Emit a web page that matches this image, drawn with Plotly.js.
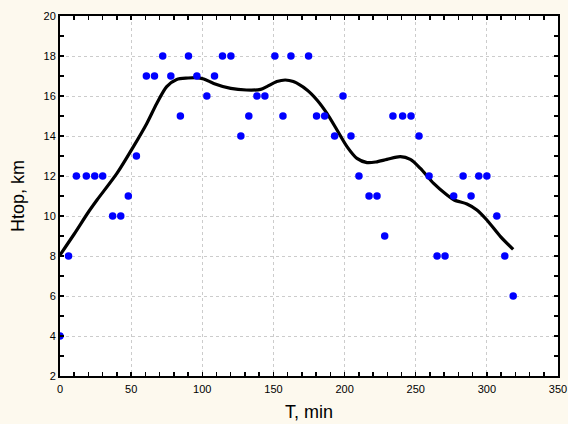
<!DOCTYPE html>
<html>
<head>
<meta charset="utf-8">
<script src="https://cdn.plot.ly/plotly-3.0.1.min.js"></script>
<style>html,body{margin:0;padding:0;background:#fdf9ee;}#chart{width:568px;height:424px;}</style>
</head>
<body>
<div id="chart"></div>
<script>
// Observed points: T (min) vs Htop (km)
const timeMin = [0, 6, 11.5, 18.5, 24.4, 30, 37, 42.7, 48, 53.7, 60.7, 66.4, 72.2, 77.9, 84.6, 90.3, 96.2, 103.2, 108.6, 114.2, 120.1, 127.1, 132.7, 138.4, 144, 151, 156.7, 162.3, 174.7, 180.3, 186, 193, 198.9, 204.5, 210.1, 217.2, 222.8, 228.2, 234, 240.8, 246.7, 252.3, 259.4, 265, 270.6, 276.7, 283.3, 288.9, 294.3, 300, 307, 312.6, 318.5];
const htopKm = [4, 8, 12, 12, 12, 12, 10, 10, 11, 13, 17, 17, 18, 17, 15, 18, 17, 16, 17, 18, 18, 14, 15, 16, 16, 18, 15, 18, 18, 15, 15, 14, 16, 14, 12, 11, 11, 9, 15, 15, 15, 14, 12, 8, 8, 11, 12, 11, 12, 12, 10, 8, 6];

// Smoothed curve
const smoothT = [0, 10, 20, 26, 40, 51.6, 61, 68, 75, 82, 90, 96, 101, 108, 120, 131, 141, 145.4, 152.4, 158.3, 164, 173.6, 180.6, 187.6, 194.7, 201.7, 208.7, 215.8, 222, 229.8, 239.2, 246.2, 253.3, 262.6, 272, 277, 286, 293, 300, 309.6, 318.5];
const smoothH = [8.05, 9.1, 10.2, 10.8, 12.13, 13.47, 14.63, 15.63, 16.47, 16.83, 16.9, 16.92, 16.85, 16.63, 16.38, 16.3, 16.33, 16.47, 16.72, 16.8, 16.72, 16.3, 15.8, 15.13, 14.3, 13.47, 12.88, 12.67, 12.7, 12.83, 12.97, 12.83, 12.38, 11.63, 11.05, 10.8, 10.6, 10.3, 9.8, 8.97, 8.33];

const xTitle = 'T, min';
const yTitle = 'Htop, km';

const traces = [
  {x: smoothT, y: smoothH, type: 'scatter', mode: 'lines',
   line: {color: '#000000', width: 3.2, shape: 'spline', smoothing: 0.8}, hoverinfo: 'skip'},
  {x: timeMin, y: htopKm, type: 'scatter', mode: 'markers',
   marker: {color: '#0000ff', size: 7.5}}
];

const axisCommon = {
  showline: true, linecolor: '#000000', linewidth: 2, mirror: 'allticks',
  ticks: 'inside', ticklen: 4, tickwidth: 1.5, tickcolor: '#000000',
  showgrid: true, gridcolor: '#cccccc', griddash: 'dot', gridwidth: 1,
  zeroline: false,
  tickfont: {family: 'Liberation Sans, Arial, sans-serif', size: 11, color: '#000000'}
};

const titleFont = {family: 'Liberation Sans, Arial, sans-serif', size: 18, color: '#000000'};

const layout = {
  width: 568, height: 424,
  paper_bgcolor: '#fdf9ee', plot_bgcolor: '#ffffff',
  margin: {l: 60, r: 10, t: 16, b: 48},
  showlegend: false,
  xaxis: Object.assign({}, axisCommon, {
    range: [0, 350], dtick: 50, tick0: 0, ticklabelstandoff: 2,
    minor: {dtick: 10, ticks: 'inside', ticklen: 4, tickwidth: 1.5, tickcolor: '#000000', showgrid: false},
    title: {text: xTitle, standoff: 11, font: titleFont}
  }),
  yaxis: Object.assign({}, axisCommon, {
    range: [2, 20], dtick: 2, tick0: 0,
    minor: {dtick: 1, ticks: 'inside', ticklen: 4, tickwidth: 1.5, tickcolor: '#000000', showgrid: false},
    title: {text: yTitle, standoff: 14, font: titleFont}
  })
};

Plotly.newPlot('chart', traces, layout, {displayModeBar: false, staticPlot: true});
</script>
</body>
</html>
